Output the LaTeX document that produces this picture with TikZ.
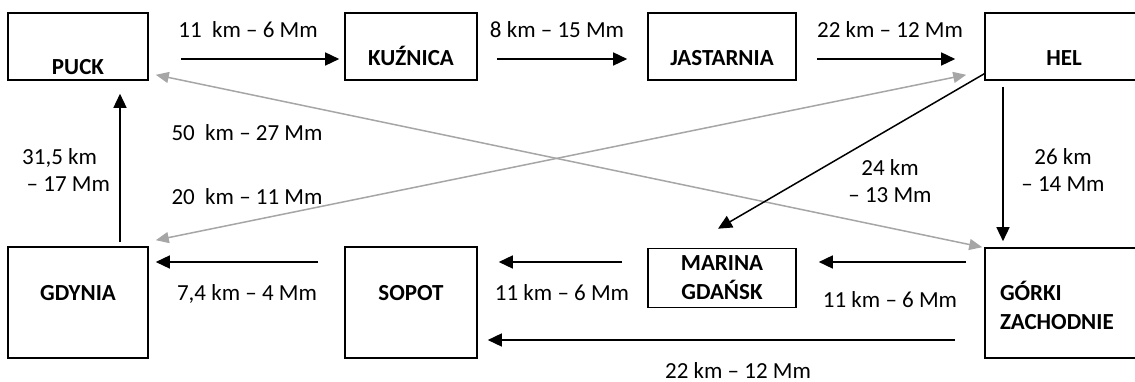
\documentclass[tikz,border=0pt]{standalone}
\usepackage{fontspec}
\setmainfont{Carlito}
\usetikzlibrary{arrows.meta}
\definecolor{grayline}{RGB}{166,166,166}
\begin{document}
\begin{tikzpicture}[x=1pt,y=-1pt,
  box/.style={draw, line width=1.6pt, inner sep=0pt, font=\fontsize{23}{29}\selectfont\bfseries},
  lab/.style={inner sep=0pt, font=\fontsize{23}{27}\selectfont},
  lab1/.style={lab, text height=14.5pt, text depth=0pt},
  arr/.style={line width=1.5pt, -{Triangle[length=14pt,width=13pt]}},
  garr/.style={line width=1.5pt, draw=grayline, {Triangle[length=13pt,width=11pt]}-{Triangle[length=13pt,width=11pt]}}]
\useasboundingbox (0,0) rectangle (1135,382);
\clip (0,0) rectangle (1135,382);
% boxes
\node[box, minimum width=140pt, minimum height=67pt, text height=55.6pt, text depth=0pt] (puck) at (78,46.5) {PUCK};
\node[box, minimum width=132pt, minimum height=67pt, text height=37.6pt, text depth=0pt] (kuz) at (411,46.5) {KUŹNICA};
\node[box, minimum width=148pt, minimum height=67pt, text height=37.6pt, text depth=0pt] (jas) at (722,46.5) {JASTARNIA};
\node[box, minimum width=158pt, minimum height=67pt, text height=37.6pt, text depth=0pt] (hel) at (1064,46.5) {HEL};
\node[box, minimum width=140pt, minimum height=111pt, text height=0pt, text depth=4.4pt] (gdy) at (78,302.5) {GDYNIA};
\node[box, minimum width=132pt, minimum height=111pt, text height=0pt, text depth=4.4pt] (sop) at (411,302.5) {SOPOT};
\node[box, minimum width=148pt, minimum height=59pt, align=center] (mar) at (722,278) {MARINA\\GDAŃSK};
\node[box, minimum width=158pt, minimum height=110pt, text height=0pt, text depth=5.4pt] (gork) at (1064,303) {\parbox[t]{128pt}{GÓRKI\\ZACHODNIE}};
% labels
\node[lab1] (l1) at (248,30) {11\ \ km – 6 Mm};
\node[lab1] (l2) at (557,30) {8 km – 15 Mm};
\node[lab1] (l3) at (890,30) {22 km – 12 Mm};
\node[lab1] (l4) at (247,133) {50\ \ km – 27 Mm};
\node[lab1] (l5) at (247,197) {20\ \ km – 11 Mm};
\node[lab, anchor=west, align=left] (l6) at (22,170) {31,5 km\\\hspace*{4.5pt}– 17 Mm};
\node[lab, align=center] (l7) at (1063,170) {26 km\\– 14 Mm};
\node[lab, align=center] (l8) at (890,181) {24 km\\– 13 Mm};
\node[lab1] (l9) at (247,293) {7,4 km – 4 Mm};
\node[lab1] (l10) at (562,293) {11 km – 6 Mm};
\node[lab1] (l11) at (890,300) {11 km – 6 Mm};
\node[lab1] (l12) at (738,371) {22 km – 12 Mm};
% grey connectors
\draw[garr] ([xshift=7pt,yshift=6pt]puck.south east) -- ([xshift=-2pt]gork.north west);
\draw[garr] ([xshift=-18pt,yshift=6pt]hel.south west) -- ([xshift=7pt,yshift=6pt]gdy.north east);
% black connectors
\draw[arr, shorten <=32pt, shorten >=5pt] ([yshift=-12.5pt]puck.east) -- ([yshift=-12.5pt]kuz.west);
\draw[arr, shorten <=19pt, shorten >=20pt] ([yshift=-12.5pt]kuz.east) -- ([yshift=-12.5pt]jas.west);
\draw[arr, shorten <=20pt, shorten >=29pt] ([yshift=-12.5pt]jas.east) -- ([yshift=-12.5pt]hel.west);
\draw[arr, shorten <=6pt, shorten >=6pt] ([xshift=-61pt]hel.south) -- ([xshift=-61pt]gork.north);
\draw[arr] ([yshift=7pt]hel.south west) -- ([xshift=-4pt,yshift=19pt]mar.north);
\draw[arr] ([xshift=42pt,yshift=4pt]gdy.north) -- ([xshift=42pt,yshift=-13pt]puck.south);
\draw[arr, shorten <=26pt, shorten >=7pt] ([yshift=40.5pt]sop.west) -- ([yshift=40.5pt]gdy.east);
\draw[arr, shorten <=25pt, shorten >=21pt] ([yshift=16pt]mar.west) -- ([yshift=40.5pt]sop.east);
\draw[arr, shorten <=18pt, shorten >=22pt] ([yshift=41pt]gork.west) -- ([yshift=16pt]mar.east);
\draw[arr, shorten <=29pt, shorten >=10pt] ([yshift=-37pt]gork.west) -- ([yshift=-37.5pt]sop.east);
\end{tikzpicture}
\end{document}
